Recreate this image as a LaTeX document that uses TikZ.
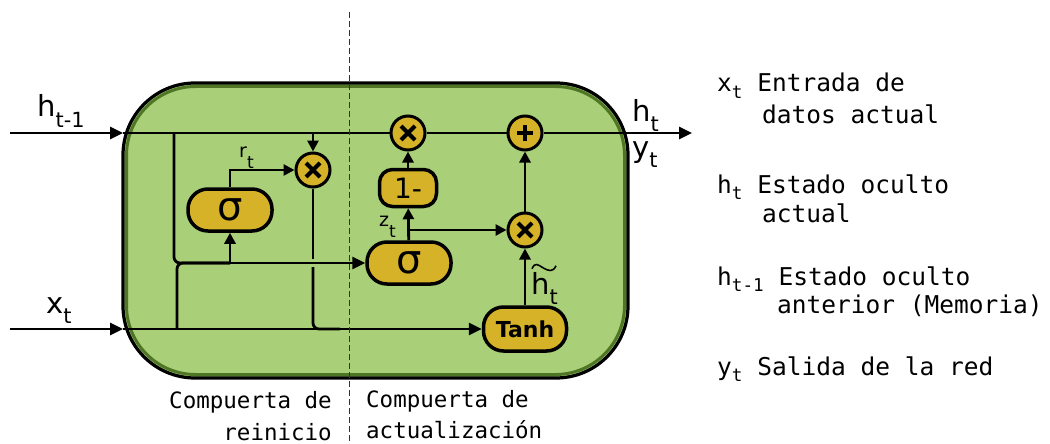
\documentclass[tikz,border=0pt]{standalone}
\usepackage{fontspec}
\setmainfont{DejaVu Sans}
\newfontfamily\monofam{DejaVu Sans Mono}
\usetikzlibrary{arrows.meta}
\definecolor{cellgreen}{RGB}{169,208,120}
\definecolor{edgegreen}{RGB}{78,118,36}
\definecolor{gatebrown}{RGB}{214,178,40}
\newcommand{\dsub}[1]{\raisebox{-0.36em}{\scalebox{0.72}{#1}}}
\newcommand{\ssub}[1]{\raisebox{-0.6em}{\scalebox{0.9}{#1}}}
\newcommand{\lsub}[1]{\raisebox{-0.27em}{\scalebox{0.72}{#1}}}
\tikzset{
  ln/.style={line width=2.8pt, line cap=butt},
  arr/.style={ln, -{Triangle[length=13pt,width=12pt]}},
  sarr/.style={ln, -{Triangle[length=11pt,width=11pt]}},
  gatebox/.style={draw=black, fill=gatebrown, line width=3.5pt, rounded corners=20pt,
    minimum width=84pt, minimum height=42pt, inner sep=0pt,
    font=\fontsize{40}{40}\selectfont},
  opnode/.style={circle, draw=black, fill=gatebrown, line width=3pt, minimum size=34pt, inner sep=0pt},
  crossline/.style={line width=4pt},
  biglbl/.style={inner sep=0pt, anchor=base west, font=\fontsize{29}{32}\selectfont},
  smalllbl/.style={inner sep=0pt, anchor=base west, font=\fontsize{19}{20}\selectfont},
  legend/.style={inner sep=0pt, anchor=base west, font=\monofam\fontsize{24.5}{28}\selectfont},
  gatelbl/.style={inner sep=0pt, font=\monofam\fontsize{22.5}{26}\selectfont},
}
\begin{document}
\begin{tikzpicture}[x=1pt,y=-1pt]
\useasboundingbox (0,0) rectangle (1050,444);
% cell
\path[fill=cellgreen, rounded corners=72pt] (123,83) rectangle (628,378);
\draw[edgegreen, line width=3pt, rounded corners=69pt] (126.5,86.5) rectangle (624.5,374.5);
\draw[black, line width=3.2pt, rounded corners=72pt] (123,83) rectangle (628,378);

% nodes
\node[gatebox] (s1) at (230,210) {σ};
\node[gatebox] (s2) at (409,263) {σ};
\node[gatebox, rounded corners=13pt, minimum width=57pt, minimum height=37pt,
      font=\fontsize{28}{28}\selectfont] (one) at (408,188) {1-};
\node[gatebox, minimum width=83pt, minimum height=44pt,
      font=\bfseries\fontsize{22}{22}\selectfont] (tanh) at (525,329) {Tanh};
\node[opnode] (m1) at (313,170) {};
\node[opnode] (m2) at (408,133) {};
\node[opnode] (pl) at (525,133) {};
\node[opnode] (m3) at (525,230) {};

\foreach \n in {m1,m2,m3}
  \draw[crossline] (\n.center) ++(-7,-7) -- ++(14,14) (\n.center) ++(-7,7) -- ++(14,-14);
\draw[crossline] (pl.center) ++(-8,0) -- ++(16,0) (pl.center) ++(0,-8) -- ++(0,16);

% coordinates
\coordinate (hin) at (10,133);
\coordinate (hedge) at (123,133);
\coordinate (hout) at (692,133);
\coordinate (xin) at (10,329);
\coordinate (xedge) at (123,329);
\coordinate (j1) at (174,133);
\coordinate (jx) at (177,329);
\coordinate (jm) at (230,263);
\coordinate (j4) at (313,133);
\coordinate (g1) at (313,259);
\coordinate (g2) at (313,267);
\coordinate (jx2) at (340,329);
\coordinate (jz) at (408,230);

% connectors
\draw[arr] (hin) -- (hedge);
\draw[ln] (hedge) -- (m2);
\draw[ln] (m2) -- (pl);
\draw[arr] (pl) -- (hout);
\draw[arr] (xin) -- (xedge);
\draw[arr] (xedge) -- (tanh);
\draw[ln, rounded corners=6pt] (j1) |- (jm);
\draw[ln, rounded corners=6pt] (jx) |- (jm);
\draw[sarr] (jm) -- (s1);
\draw[arr] (jm) -- (s2);
\draw[sarr] (s1.north) |- (m1);
\draw[sarr] (j4) -- (m1);
\draw[ln] (m1) -- (g1);
\draw[ln, rounded corners=6pt] (g2) |- (jx2);
\draw[sarr] (s2) -- (one);
\draw[sarr] (one) -- (m2);
\draw[sarr] (jz) -- (m3);
\draw[sarr] (m3) -- (pl);
\draw[sarr] (tanh) -- (m3);

% labels inside
\node[biglbl] (lh) at (37,117) {h\dsub{t-1}};
\node[biglbl] (lx) at (46,313) {x\dsub{t}};
\node[biglbl] (lho) at (632,121.5) {h\dsub{t}};
\node[biglbl] (lyo) at (632,157) {y\dsub{t}};
\node[smalllbl] (lr) at (239,157) {r\ssub{t}};
\node[smalllbl] (lz) at (379,226.5) {z\ssub{t}};
\node[biglbl] (lht) at (531,294) {h\dsub{t}};
\draw[line width=1.6pt] (lht.north west) ++(1,-3)
  .. controls +(3,-7) and +(-5,-3) .. ++(11,-1)
  .. controls +(5,3) and +(-3,7) .. ++(13,-2);

% dashed divider
\draw[line width=1pt, dash pattern=on 6pt off 3pt, black!80] (349,12) -- (349,444);

% bottom labels
\node[gatelbl, anchor=base east] (c1a) at (332,408) {Compuerta de};
\node[gatelbl, anchor=base east] (c1b) at (332,440) {reinicio};
\node[gatelbl, anchor=base west] (c2a) at (366,407) {Compuerta de};
\node[gatelbl, anchor=base west] (c2b) at (366,438.5) {actualización};

% legend
\node[legend] (l1) at (717,92) {x\lsub{t} Entrada de};
\node[legend] (l1b) at (762,123) {datos actual};
\node[legend] (l2) at (717,193) {h\lsub{t} Estado oculto};
\node[legend] (l2b) at (762,222) {actual};
\node[legend] (l3) at (717,285) {h\lsub{t-1} Estado oculto};
\node[legend] (l3b) at (777,313) {anterior (Memoria)};
\node[legend] (l4) at (717,375) {y\lsub{t} Salida de la red};
\end{tikzpicture}
\end{document}
